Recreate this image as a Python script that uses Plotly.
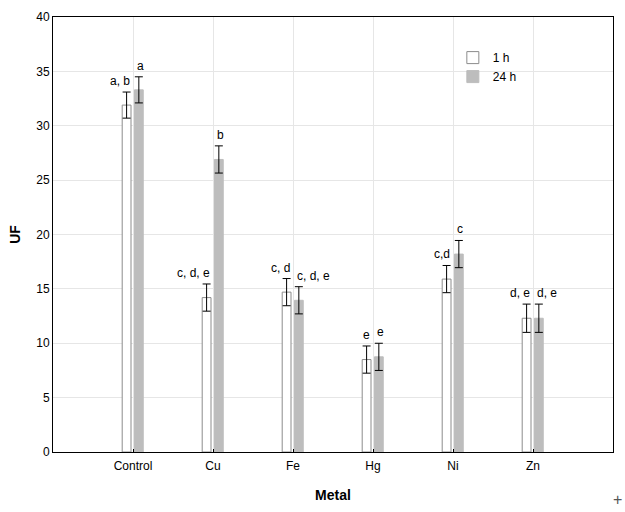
import plotly.graph_objects as go

categories = ["Control", "Cu", "Fe", "Hg", "Ni", "Zn"]
uf_1h = [31.9, 14.2, 14.7, 8.5, 15.9, 12.3]
err_1h = [1.2, 1.25, 1.25, 1.25, 1.25, 1.3]
uf_24h = [33.3, 26.9, 13.95, 8.75, 18.2, 12.3]
err_24h = [1.2, 1.25, 1.25, 1.25, 1.25, 1.3]
labels_1h = ["a, b", "c, d, e", "c, d", "e", "c,d", "d, e"]
labels_24h = ["a", "b", "c, d, e", "e", "c", "d, e"]
y_ticks = [0, 5, 10, 15, 20, 25, 30, 35, 40]

FONT = "Liberation Sans, Arial, sans-serif"

fig = go.Figure()
fig.add_trace(go.Bar(
    x=categories, y=uf_1h, name="1 h",
    width=0.11, offset=-0.135,
    marker=dict(color="white", line=dict(color="#8c8c8c", width=1)),
    error_y=dict(type="data", array=err_1h, color="black", thickness=1, width=4),
))
fig.add_trace(go.Bar(
    x=categories, y=uf_24h, name="24 h",
    width=0.11, offset=0.018,
    marker=dict(color="#bdbdbd", line=dict(color="#bdbdbd", width=1)),
    error_y=dict(type="data", array=err_24h, color="black", thickness=1, width=4),
))

annotations = []
for c, v, e, t in zip(categories, uf_1h, err_1h, labels_1h):
    annotations.append(dict(x=c, y=v + e, text=t, showarrow=False, xanchor="right",
                            yanchor="bottom", xshift=-1, yshift=2,
                            font=dict(family=FONT, size=12, color="black")))
for c, v, e, t in zip(categories, uf_24h, err_24h, labels_24h):
    annotations.append(dict(x=c, y=v + e, text=t, showarrow=False, xanchor="left",
                            yanchor="bottom", xshift=2, yshift=2,
                            font=dict(family=FONT, size=12, color="black")))
annotations.append(dict(xref="paper", yref="paper", x=1.0, y=-0.11, text="+",
                        showarrow=False, xanchor="center", yanchor="middle",
                        xshift=4, borderpad=0,
                        font=dict(family=FONT, size=16, color="#555555")))

fig.update_layout(
    width=625, height=512,
    margin=dict(l=53, r=12, t=17, b=60, autoexpand=False),
    plot_bgcolor="white", paper_bgcolor="white",
    font=dict(family=FONT, size=12, color="black"),
    barmode="overlay",
    showlegend=True,
    legend=dict(x=0.714, y=0.94, xanchor="left", yanchor="top",
                bgcolor="rgba(0,0,0,0)", font=dict(size=12),
                tracegroupgap=0, itemwidth=30),
    annotations=annotations,
    xaxis=dict(
        range=[-1, 6], showline=True, linecolor="black", linewidth=1, mirror=True,
        showgrid=True, gridcolor="#e6e6e6", ticks="inside", ticklen=3,
        tickcolor="black", title=dict(text="<b>Metal</b>", standoff=17),
        tickfont=dict(size=12), automargin=False, ticklabelstandoff=3,
    ),
    yaxis=dict(
        range=[0, 40], tickvals=y_ticks, showline=True, linecolor="black",
        linewidth=1, mirror=True, showgrid=True, gridcolor="#e6e6e6",
        ticks="", title=dict(text="<b>UF</b>", standoff=12), zeroline=False,
        tickfont=dict(size=12), automargin=False,
    ),
)

fig.write_html("out.html", config={"displayModeBar": False},
               post_script="document.body.style.margin='0';document.body.style.overflow='hidden';")
